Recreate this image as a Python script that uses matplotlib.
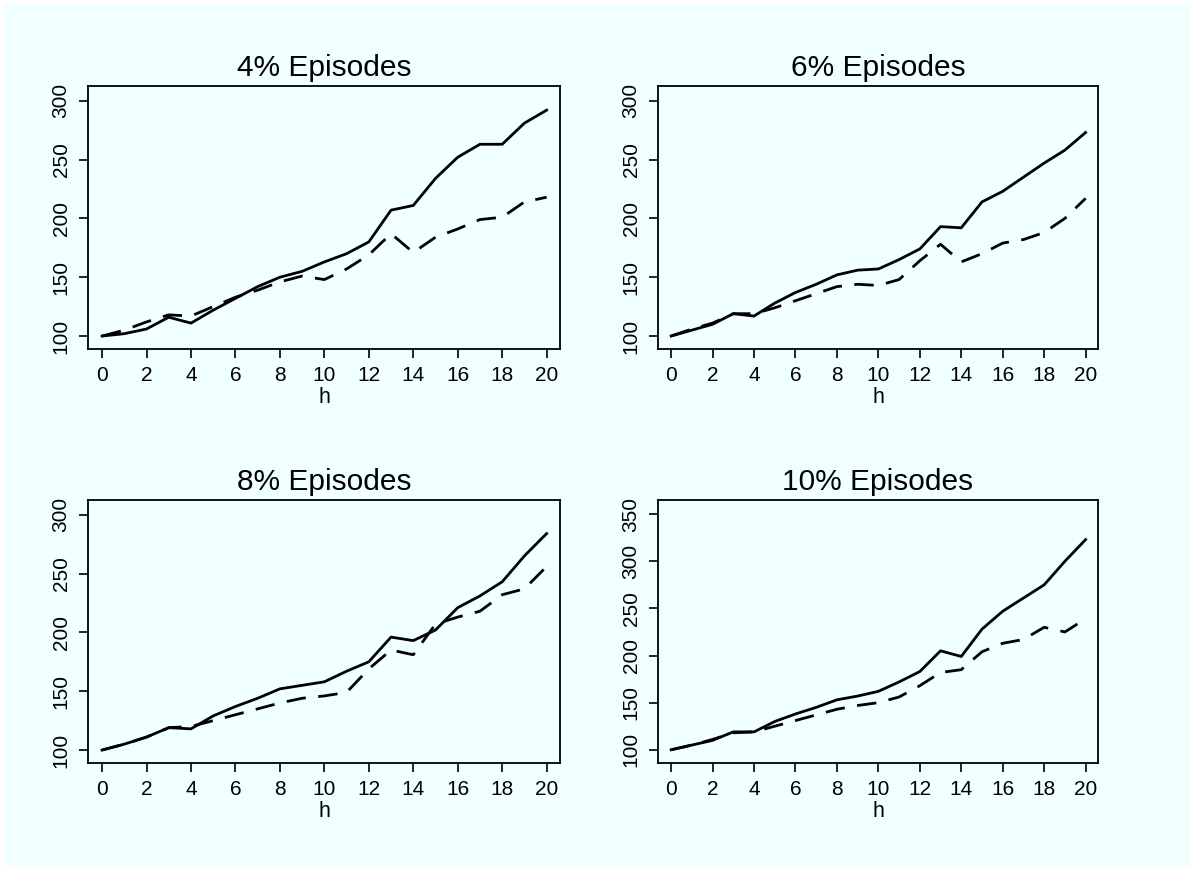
import numpy as np
import matplotlib
matplotlib.use("Agg")
import matplotlib.pyplot as plt
from matplotlib.patches import Rectangle

plt.rcParams['font.family'] = ['Liberation Sans', 'DejaVu Sans']

h = list(range(21))

# 4% episodes
solid_4 = [100, 102, 106, 116, 111, 122, 132, 142, 150, 155, 163, 170, 180, 207, 211, 234, 252, 263, 263, 281, 292]
dash_4 = [100, 105, 112, 118, 117, 125, 133, 139, 146, 151, 148, 157, 169, 187, 171, 184, 191, 199, 201, 214, 218]

# 6% episodes
solid_6 = [100, 105, 110, 119, 117, 128, 137, 144, 152, 156, 157, 165, 174, 193, 192, 214, 223, 235, 247, 258, 273]
dash_6 = [100, 106, 111, 119, 119, 124, 130, 136, 142, 144, 143, 148, 164, 178, 163, 170, 179, 182, 188, 200, 217]

# 8% episodes
solid_8 = [100, 105, 111, 119, 118, 129, 137, 144, 152, 155, 158, 167, 175, 196, 193, 202, 221, 231, 243, 265, 284]
dash_8 = [100, 105, 111, 119, 120, 125, 130, 135, 140, 144, 146, 149, 169, 185, 181, 207, 213, 218, 232, 237, 256]

# 10% episodes
solid_10 = [100, 105, 110, 119, 119, 130, 138, 145, 153, 157, 162, 172, 183, 205, 199, 228, 247, 261, 275, 300, 323]
dash_10 = [100, 105, 111, 118, 119, 125, 131, 137, 143, 147, 150, 156, 168, 182, 185, 204, 213, 217, 230, 225, 239]

titles = ['4% Episodes', '6% Episodes', '8% Episodes', '10% Episodes']
solids = [solid_4, solid_6, solid_8, solid_10]
dashes = [dash_4, dash_6, dash_8, dash_10]
yticks = [[100, 150, 200, 250, 300]] * 3 + [[100, 150, 200, 250, 300, 350]]
ylims = [(89, 312.5), (89, 312.5), (89, 312.5), (86, 365)]

bg = '#F0FFFF'
fig = plt.figure(figsize=(11.93, 8.69), dpi=100, facecolor='white')
fig.patches.append(Rectangle((0.0034, 0.0035), 0.994, 0.992, transform=fig.transFigure,
                             facecolor=bg, edgecolor='none', zorder=-10))

# axes boxes in figure fractions [left, bottom, width, height]
boxes = [
    [0.0738, 0.5984, 0.3956, 0.3026],
    [0.5516, 0.5984, 0.3688, 0.3026],
    [0.0738, 0.1220, 0.3956, 0.3026],
    [0.5516, 0.1220, 0.3688, 0.3026],
]

for i in range(4):
    ax = fig.add_axes(boxes[i])
    ax.set_facecolor(bg)
    ax.plot(h, solids[i], color='black', lw=2.0)
    ax.plot(h, dashes[i], color='black', lw=2.0, dashes=(7, 4.5))
    ax.set_xlim(-0.63, 20.6)
    ax.set_ylim(*ylims[i])
    ax.set_xticks(range(0, 21, 2))
    ax.set_yticks(yticks[i])
    ax.set_yticklabels([str(v) for v in yticks[i]], rotation=90, va='center')
    ax.tick_params(direction='out', length=6.5, width=1.2, labelsize=15, pad=6, color='black')
    for s in ax.spines.values():
        s.set_linewidth(1.3)
    ax.set_title(titles[i], fontsize=21.5, pad=7)
    ax.set_xlabel('h', fontsize=15.5, labelpad=1)

fig.savefig('out.png', dpi=100, facecolor='white')
